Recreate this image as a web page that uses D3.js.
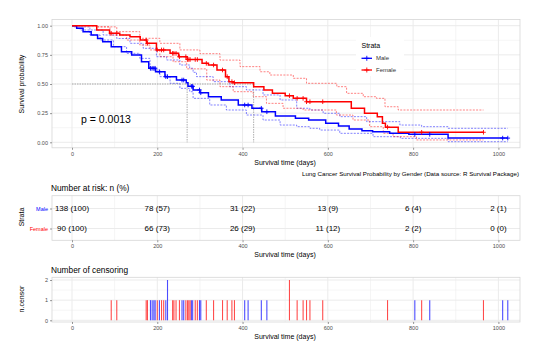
<!DOCTYPE html>
<html><head><meta charset="utf-8">
<script src="https://cdn.jsdelivr.net/npm/d3@7"></script>
<style>body{margin:0;background:#fff}svg{display:block;font-family:"Liberation Sans",Arial,sans-serif}</style>
</head><body><svg id="c" width="538" height="355"></svg>
<script>
// ---- data ----
const xTicks = [0,200,400,600,800,1000];
const yTicks = [0,0.25,0.5,0.75,1];
const strata = ["Male","Female"];
const colors = ["#0000FF","#FF0000"];

const maleT = [0,11,26,45,60,72,92,116,140,163,180,196,218,245,268,272,284,300,320,350,390,422,445,477,524,555,595,625,650,680,705,745,790,882,1022];
const maleS = [1,0.978,0.949,0.92,0.89,0.863,0.82,0.777,0.749,0.691,0.635,0.605,0.563,0.534,0.51,0.48,0.449,0.425,0.391,0.363,0.32,0.292,0.262,0.226,0.206,0.191,0.163,0.14,0.114,0.098,0.091,0.077,0.068,0.036,0.036];
const femaleT = [0,58,88,112,136,160,175,198,230,250,270,305,320,340,360,368,378,426,450,470,500,519,550,655,686,716,728,735,765,965];
const femaleS = [1,0.963,0.935,0.92,0.906,0.877,0.849,0.792,0.763,0.734,0.71,0.677,0.663,0.62,0.563,0.52,0.511,0.477,0.449,0.42,0.4,0.377,0.348,0.292,0.249,0.22,0.163,0.13,0.086,0.086];

const maleUpT = [0,19,42,73,105,136,167,198,222,253,276,284,292,331,370,409,448,488,527,558,589,628,691,769,820,882,1022];
const maleUpS = [1,0.99,0.963,0.92,0.89,0.849,0.806,0.734,0.706,0.663,0.635,0.6,0.563,0.52,0.477,0.449,0.406,0.363,0.292,0.277,0.249,0.22,0.177,0.148,0.134,0.12,0.12];
const maleLoT = [0,3,19,42,66,97,128,159,183,206,230,253,276,284,323,362,409,448,488,527,558,581,628,706,770,882,1022];
const maleLoS = [1,0.99,0.963,0.92,0.877,0.82,0.763,0.72,0.62,0.563,0.506,0.463,0.434,0.377,0.32,0.277,0.234,0.191,0.148,0.134,0.12,0.105,0.077,0.048,0.034,0.005,0.005];
const femUpT = [0,60,105,159,206,253,300,347,394,441,464,519,550,621,644,683,714,734,765,965];
const femUpS = [1,0.99,0.949,0.892,0.849,0.792,0.76,0.705,0.649,0.605,0.577,0.549,0.506,0.477,0.42,0.391,0.377,0.305,0.277,0.277];
const femLoT = [0,58,89,128,159,183,206,237,269,316,347,378,425,456,495,542,620,659,698,730,753,808,965];
const femLoS = [1,0.99,0.92,0.877,0.834,0.792,0.734,0.691,0.63,0.534,0.477,0.434,0.391,0.334,0.292,0.277,0.234,0.191,0.134,0.077,0.048,0.02,0.02];

const medians = [270,426];

const censorMaleT = [184,188,192,195,205,220,224,258,262,280,283,299,302,405,413,444,457,804,839,1010,1022];
const censorMaleN = [1,1,1,1,1,1,2,1,1,1,1,1,1,1,1,1,1,1,1,1,1];
const censorFemT = [92,105,174,177,200,210,215,236,239,244,252,267,271,274,277,289,294,315,332,353,364,375,381,510,528,542,550,558,588,740,820,965];
const censorFemN = [1,1,1,1,1,1,1,1,1,1,1,1,1,1,1,1,1,1,1,1,1,1,1,2,1,1,1,1,1,1,1,1];

const riskTimes = [0,200,400,600,800,1000];
const riskMale = ["138 (100)","78 (57)","31 (22)","13 (9)","6 (4)","2 (1)"];
const riskFemale = ["90 (100)","66 (73)","26 (29)","11 (12)","2 (2)","0 (0)"];

// ---- drawing ----
const svg = d3.select("#c");
const PL = 52, PR = 520;
const x = d3.scaleLinear().domain([0,1000]).range([72,498.4]);
const grid = "#EBEBEB", border = "#D6D6D6", tickCol = "#4D4D4D";
const minorX = [-100,100,300,500,700,900].filter(v=>x(v)>PL);

function panel(y0,y1){
  svg.append("rect").attr("x",PL).attr("y",y0).attr("width",PR-PL).attr("height",y1-y0)
    .attr("fill","#fff");
}
function vgrid(y0,y1){
  minorX.forEach(v=>svg.append("line").attr("x1",x(v)).attr("x2",x(v)).attr("y1",y0).attr("y2",y1).attr("stroke",grid).attr("stroke-width",0.5));
  xTicks.forEach(v=>svg.append("line").attr("x1",x(v)).attr("x2",x(v)).attr("y1",y0).attr("y2",y1).attr("stroke",grid).attr("stroke-width",1));
}
function frame(y0,y1){
  svg.append("rect").attr("x",PL).attr("y",y0).attr("width",PR-PL).attr("height",y1-y0)
    .attr("fill","none").attr("stroke",border).attr("stroke-width",0.8);
}
function xAxis(yPos, labelY){
  const g = svg.append("g").attr("transform",`translate(0,${yPos})`)
    .call(d3.axisBottom(x).tickValues(xTicks).tickSize(2).tickPadding(2).tickFormat(d3.format("d")));
  g.select(".domain").remove();
  g.selectAll("line").attr("stroke","#333").attr("stroke-width",0.5);
  g.selectAll("text").attr("fill",tickCol).attr("font-size","5.5px").attr("font-family","Liberation Sans, Arial");
  svg.append("text").attr("x",285).attr("y",labelY).attr("text-anchor","middle").attr("font-size","7px").attr("fill","#000").text("Survival time (days)");
}
function yTitle(txt, cy){
  svg.append("text").attr("transform",`translate(24,${cy}) rotate(-90)`).attr("text-anchor","middle").attr("font-size","7px").attr("fill","#000").text(txt);
}

// ===== Survival panel =====
const y = d3.scaleLinear().domain([0,1]).range([142.3,25.7]);
const T0 = 19.5, T1 = 147.8;
panel(T0,T1);
vgrid(T0,T1);
[0.125,0.375,0.625,0.875].forEach(v=>svg.append("line").attr("x1",PL).attr("x2",PR).attr("y1",y(v)).attr("y2",y(v)).attr("stroke",grid).attr("stroke-width",0.5));
yTicks.forEach(v=>svg.append("line").attr("x1",PL).attr("x2",PR).attr("y1",y(v)).attr("y2",y(v)).attr("stroke",grid).attr("stroke-width",1));
frame(T0,T1);
{
  const g = svg.append("g").attr("transform",`translate(${PL},0)`)
    .call(d3.axisLeft(y).tickValues(yTicks).tickSize(2).tickPadding(2).tickFormat(d3.format(".2f")));
  g.select(".domain").remove();
  g.selectAll("line").attr("stroke","#333").attr("stroke-width",0.5);
  g.selectAll("text").attr("fill",tickCol).attr("font-size","5.5px").attr("font-family","Liberation Sans, Arial");
}
xAxis(T1, 164.5);
yTitle("Survival probability", 84);

const line = d3.line().x(d=>x(d[0])).y(d=>y(d[1])).curve(d3.curveStepAfter);
const zip = (a,b)=>a.map((t,i)=>[t,b[i]]);
const bands = [[maleUpT,maleUpS,0],[maleLoT,maleLoS,0],[femUpT,femUpS,1],[femLoT,femLoS,1]];
bands.forEach(([t,s,k])=>svg.append("path").attr("d",line(zip(t,s))).attr("fill","none")
  .attr("stroke",colors[k]).attr("stroke-opacity",0.55).attr("stroke-width",0.9).attr("stroke-dasharray","2,1.3"));

// median lines
svg.append("path").attr("d",`M${x(0)},${y(0.5)}H${x(medians[1])}`).attr("stroke","#777").attr("stroke-width",0.6).attr("stroke-dasharray","1.5,1").attr("fill","none");
medians.forEach(m=>svg.append("path").attr("d",`M${x(m)},${y(0.5)}V${y(0)}`).attr("stroke","#777").attr("stroke-width",0.6).attr("stroke-dasharray","1.5,1").attr("fill","none"));

const curves = [[maleT,maleS],[femaleT,femaleS]];
curves.forEach(([t,s],k)=>svg.append("path").attr("d",line(zip(t,s))).attr("fill","none")
  .attr("stroke",colors[k]).attr("stroke-width",1.5));

function survAt(t,arrT,arrS){ let v=arrS[0]; for(let i=0;i<arrT.length;i++){ if(arrT[i]<=t) v=arrS[i]; } return v; }
function plus(cx,cy,col,h){
  svg.append("path").attr("d",`M${cx-h},${cy}H${cx+h}M${cx},${cy-h}V${cy+h}`).attr("stroke",col).attr("stroke-width",0.9).attr("fill","none");
}
[[censorMaleT,maleT,maleS,0],[censorFemT,femaleT,femaleS,1]].forEach(([ct,t,s,k])=>{
  ct.forEach(c=>plus(x(c),y(survAt(c,t,s)),colors[k],2.3));
});

svg.append("text").attr("x",81).attr("y",123).attr("font-size","10.5px").attr("fill","#000").text("p = 0.0013");

// legend
svg.append("rect").attr("x",356).attr("y",37).attr("width",48).attr("height",39).attr("fill","#fff");
svg.append("text").attr("x",361.5).attr("y",47.5).attr("font-size","7px").attr("fill","#000").text("Strata");
strata.forEach((n,i)=>{
  const ly = 58.3 + i*11.7;
  svg.append("line").attr("x1",361.5).attr("x2",372).attr("y1",ly).attr("y2",ly).attr("stroke",colors[i]).attr("stroke-width",1.3);
  plus(366.8,ly,colors[i],2.5);
  svg.append("text").attr("x",376).attr("y",ly+2).attr("font-size","6px").attr("fill","#333").text(n);
});

svg.append("text").attr("x",519).attr("y",175.5).attr("text-anchor","end").attr("font-size","6.2px").attr("fill","#000")
  .text("Lung Cancer Survival Probability by Gender (Data source: R Survival Package)");

// ===== Risk table =====
const R0 = 195.7, R1 = 240.3;
const yr = d3.scalePoint().domain(strata).range([208.5,228.5]);
svg.append("text").attr("x",51).attr("y",191).attr("font-size","8.3px").attr("fill","#000").text("Number at risk: n (%)");
panel(R0,R1); vgrid(R0,R1);
strata.forEach(s=>svg.append("line").attr("x1",PL).attr("x2",PR).attr("y1",yr(s)).attr("y2",yr(s)).attr("stroke",grid).attr("stroke-width",1));
frame(R0,R1);
{
  const g = svg.append("g").attr("transform",`translate(${PL},0)`).call(d3.axisLeft(yr).tickSize(2).tickPadding(2));
  g.select(".domain").remove();
  g.selectAll("line").attr("stroke","#333").attr("stroke-width",0.5);
  g.selectAll("text").attr("fill",(d,i)=>colors[i]).attr("font-size","5.5px").attr("font-family","Liberation Sans, Arial");
}
[riskMale,riskFemale].forEach((row,k)=>row.forEach((v,i)=>svg.append("text").attr("x",x(riskTimes[i])).attr("y",yr(strata[k])+2.9)
  .attr("text-anchor","middle").attr("font-size","8px").attr("fill","#000").text(v)));
xAxis(R1, 257);
yTitle("Strata", 217);

// ===== Censoring =====
const C0 = 277.3, C1 = 322;
const yc = d3.scaleLinear().domain([0,2]).range([320.3,280]);
svg.append("text").attr("x",51).attr("y",273).attr("font-size","8.3px").attr("fill","#000").text("Number of censoring");
panel(C0,C1); vgrid(C0,C1);
[0.5,1.5].forEach(v=>svg.append("line").attr("x1",PL).attr("x2",PR).attr("y1",yc(v)).attr("y2",yc(v)).attr("stroke",grid).attr("stroke-width",0.5));
[0,1,2].forEach(v=>svg.append("line").attr("x1",PL).attr("x2",PR).attr("y1",yc(v)).attr("y2",yc(v)).attr("stroke",grid).attr("stroke-width",1));
frame(C0,C1);
{
  const g = svg.append("g").attr("transform",`translate(${PL},0)`).call(d3.axisLeft(yc).tickValues([0,1,2]).tickSize(2).tickPadding(2).tickFormat(d3.format("d")));
  g.select(".domain").remove();
  g.selectAll("line").attr("stroke","#333").attr("stroke-width",0.5);
  g.selectAll("text").attr("fill",tickCol).attr("font-size","5.5px").attr("font-family","Liberation Sans, Arial");
}
[[censorMaleT,censorMaleN,0],[censorFemT,censorFemN,1]].forEach(([ct,cn,k])=>{
  ct.forEach((t,i)=>svg.append("line").attr("x1",x(t)).attr("x2",x(t)).attr("y1",yc(0)).attr("y2",yc(cn[i]))
    .attr("stroke",colors[k]).attr("stroke-width",1.1).attr("stroke-opacity",0.7));
});
xAxis(C1, 339);
yTitle("n.censor", 299);
</script></body></html>
